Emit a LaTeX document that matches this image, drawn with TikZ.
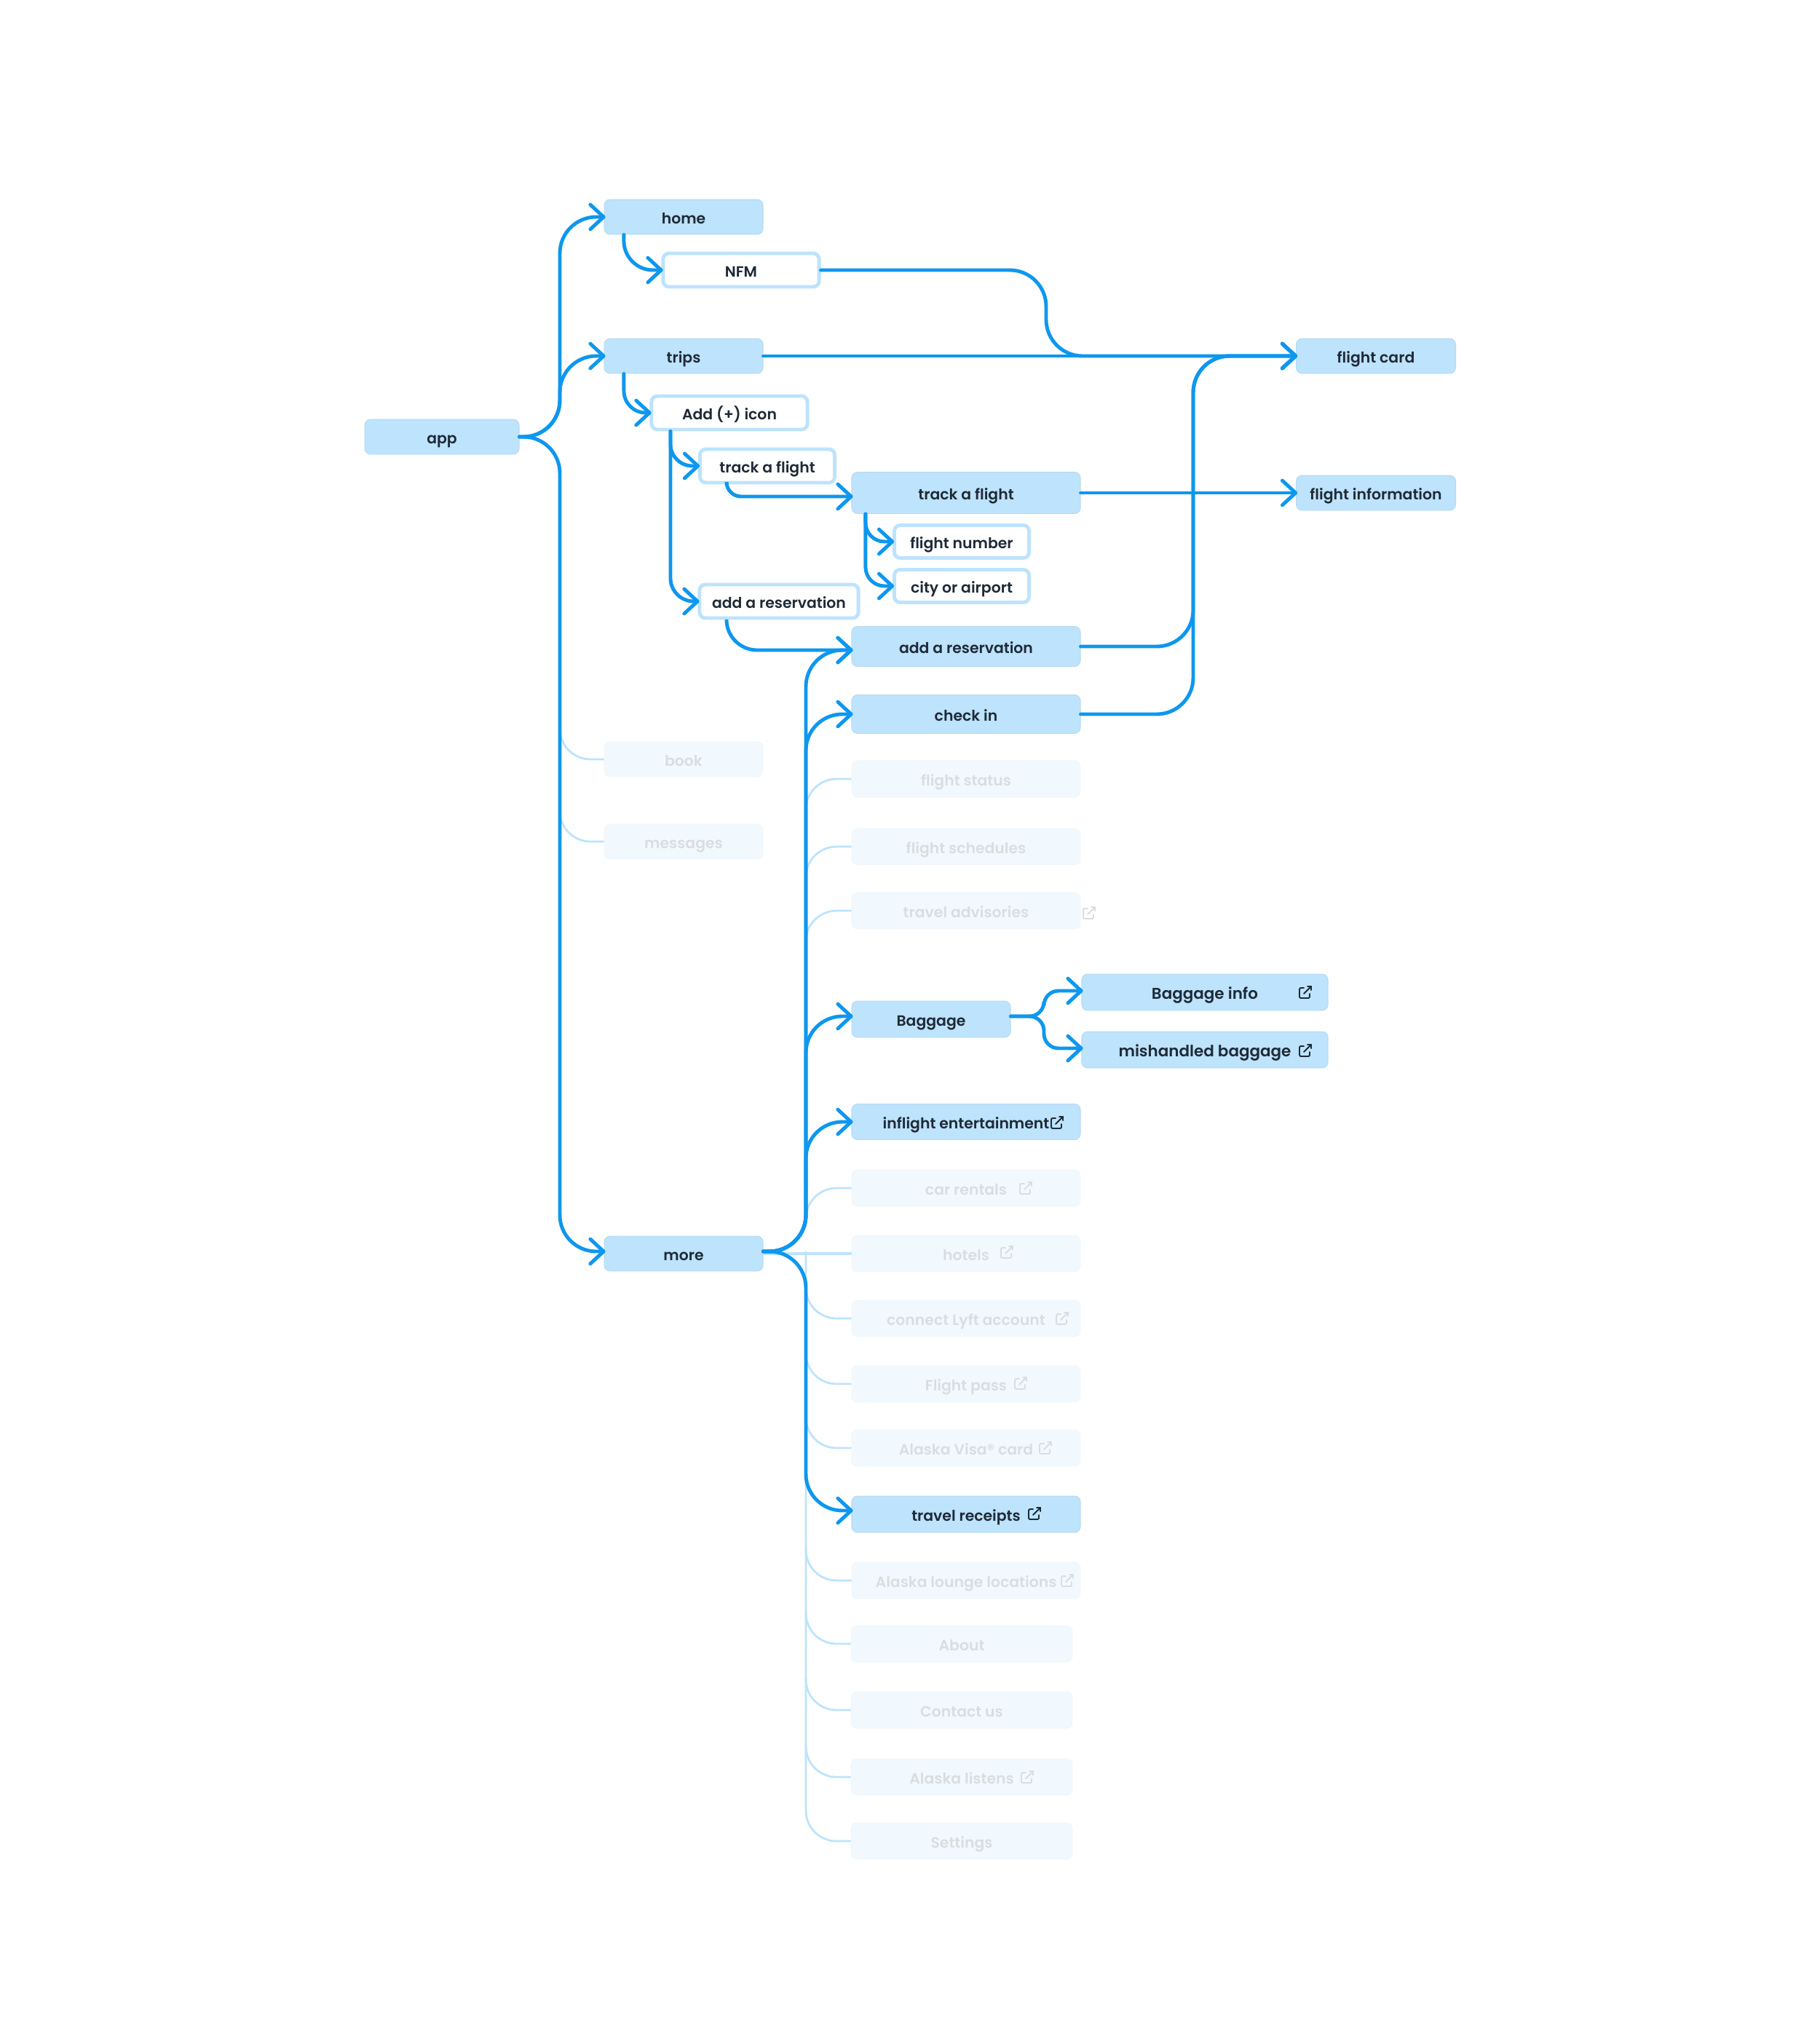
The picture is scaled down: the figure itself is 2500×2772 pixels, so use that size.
\documentclass[tikz,border=0pt]{standalone}
\usepackage{fontspec}
\setmainfont{Poppins}[BoldFont={Poppins SemiBold}]
\definecolor{myblue}{HTML}{0E97EE}
\definecolor{mypale}{HTML}{BDE3FD}
\definecolor{myghost}{HTML}{F2F9FE}
\definecolor{myink}{HTML}{1F2A37}
\definecolor{mygrey}{HTML}{D9DDE0}
\usetikzlibrary{arrows.meta, calc}
\tikzset{
  box/.style={rounded corners=.08cm, inner sep=0pt, minimum height=.48cm, text height=1.5ex, text depth=.5ex,
    font=\bfseries\fontsize{5.8}{8}\selectfont, text=myink},
  bluebox/.style={box, fill=mypale, draw=mypale!90!gray, line width=.25pt},
  whitebox/.style={box, fill=white, draw=mypale, line width=1.4pt},
  ghostbox/.style={box, fill=myghost, draw=myghost!97!gray, line width=.2pt, text=mygrey},
  flow/.style={draw=myblue, line width=1.4pt, line cap=round, rounded corners=.5cm},
  flowto/.style={flow, shorten >=-.6pt, -{Straight Barb[round,length=5.2pt,width=9.6pt]}},
  faint/.style={draw=mypale, line width=.8pt, rounded corners=.42cm},
  pics/extlink/.style={code={
    \draw[color=#1, line width=.55pt, rounded corners=.02cm, line cap=round] (-2,-6) -- (-8,-6) -- (-8,8) -- (6,8) -- (6,2);
    \draw[color=#1, line width=.55pt, line cap=round] (-2,2) -- (8,-8) (3,-8) -- (8,-8) -- (8,-3);
  }}
}
\begin{document}
\begin{tikzpicture}[x=0.01cm, y=-0.01cm]
  \useasboundingbox (0,0) rectangle (2500,2772);

  % left column
  \node[bluebox, minimum width=2.12cm] (app) at (607,600) {app};
  \foreach \name/\y/\txt in {home/298/home, trips/489/trips, more/1722/more} {
    \node[bluebox, minimum width=2.18cm] (\name) at (939,\y) {\txt};
  }
  \foreach \name/\y/\txt in {book/1043/book, messages/1156/messages} {
    \node[ghostbox, minimum width=2.18cm] (\name) at (939,\y) {\txt};
  }

  % white step boxes
  \node[whitebox, minimum width=2.14cm, minimum height=.46cm] (nfm) at (1018,371) {NFM};
  \node[whitebox, minimum width=2.14cm, minimum height=.46cm] (addicon) at (1002,567) {Add (+) icon};
  \node[whitebox, minimum width=1.85cm, minimum height=.46cm] (trackstep) at (1054,640) {track a flight};
  \node[whitebox, minimum width=2.18cm, minimum height=.46cm] (addstep) at (1070,826) {add a reservation};
  \node[whitebox, minimum width=1.85cm, minimum height=.45cm] (flightnum) at (1321,744) {flight number};
  \node[whitebox, minimum width=1.85cm, minimum height=.45cm] (cityport) at (1321,805) {city or airport};

  % screens in the middle column
  \node[bluebox, minimum width=3.14cm, minimum height=.57cm] (trackflight) at (1327,677) {track a flight};
  \node[bluebox, minimum width=3.14cm, minimum height=.55cm] (addres) at (1327,888) {add a reservation};
  \node[bluebox, minimum width=3.14cm, minimum height=.53cm] (checkin) at (1327,981) {check in};
  \node[bluebox, minimum width=2.18cm, minimum height=.5cm] (baggage) at (1279,1400) {Baggage};
  \node[bluebox, minimum width=3.14cm, minimum height=.49cm] (inflight) at (1327,1541) {inflight entertainment};
  \node[bluebox, minimum width=3.14cm, minimum height=.5cm] (receipts) at (1327,2080) {travel receipts};
  \foreach \name/\y/\txt in {status/1070/flight status, schedules/1163/flight schedules,
    advisories/1251/travel advisories, cars/1632/car rentals, hotels/1722/hotels,
    lyft/1811/connect Lyft account, pass/1901/Flight pass, visa/1989/Alaska Visa® card,
    lounge/2171/Alaska lounge locations} {
    \node[ghostbox, minimum width=3.14cm, minimum height=.5cm] (\name) at (1327,\y) {\txt};
  }
  \foreach \name/\y/\txt in {about/2258/About, contact/2349/Contact us, listens/2441/Alaska listens, settings/2529/Settings} {
    \node[ghostbox, minimum width=3.04cm, minimum height=.5cm] (\name) at (1321,\y) {\txt};
  }

  % right column
  \node[bluebox, minimum width=2.19cm] (card) at (1890,489) {flight card};
  \node[bluebox, minimum width=2.19cm] (info) at (1890,677) {flight information};
  \node[bluebox, minimum width=3.38cm, minimum height=.5cm, font=\bfseries\fontsize{6.1}{8}\selectfont] (baginfo) at (1655,1363) {Baggage info};
  \node[bluebox, minimum width=3.38cm, minimum height=.5cm, font=\bfseries\fontsize{6.1}{8}\selectfont] (bagmiss) at (1655,1442) {mishandled baggage};

  % spines
  \coordinate (spine) at (769,600);
  \coordinate (spinetwo) at (1107,1719);
  \coordinate (spinethree) at (1639,700);
  \coordinate (nfmdrop) at (1437,489);

  % greyed out branches
  \foreach \name in {book,messages} {
    \draw[faint] (spine |- \name.west) ++(0,-50) |- (\name.west);
  }
  \foreach \name in {status,schedules,advisories,cars} {
    \draw[faint] (spinetwo |- \name.west) ++(0,45) |- (\name.west);
  }
  \foreach \name in {lyft,pass,visa,lounge,about,contact,listens} {
    \draw[faint] (spinetwo |- \name.west) ++(0,-45) |- (\name.west);
  }
  \draw[faint] (spinetwo) |- (settings.west);
  \draw[faint, line width=1.3pt] (more.east) -- (hotels.west);

  % main tree
  \draw[flowto] (app.east) -| (spine |- home.west) -- (home.west);
  \draw[flowto] (app.east) -| (spine |- trips.west) -- (trips.west);
  \draw[flowto] (app.east) -| ([yshift=.03cm]spine |- more.west) -- ([yshift=.03cm]more.west);
  \draw[flowto, rounded corners=.4cm] ([xshift=-.82cm]home.south) |- (nfm.west);
  \draw[flowto, rounded corners=.3cm] ([xshift=-.82cm]trips.south) |- (addicon.west);
  \draw[flowto, rounded corners=.3cm] ([xshift=-.81cm]addicon.south) |- (trackstep.west);
  \draw[flowto, rounded corners=.32cm] ([xshift=-.81cm]addicon.south) |- (addstep.west);
  \draw[flowto, rounded corners=.2cm] ([xshift=-.56cm]trackstep.south) |- ([yshift=-.05cm]trackflight.west);
  \draw[flowto, rounded corners=.42cm] ([xshift=-.72cm]addstep.south) |- ([yshift=-.05cm]addres.west);
  \draw[flowto, rounded corners=.26cm] ([xshift=-1.38cm]trackflight.south) |- (flightnum.west);
  \draw[flowto, rounded corners=.26cm] ([xshift=-1.38cm]trackflight.south) |- (cityport.west);

  % links to the right
  \draw[flowto] (trips.east) -- (card.west);
  \draw[flowto] (nfm.east) -| (nfmdrop) -- (card.west);
  \draw[flowto] (trackflight.east) -- (info.west);
  \draw[flowto] (addres.east) -| (spinethree |- card.west) -- (card.west);
  \draw[flowto] (checkin.east) -| (spinethree |- card.west) -- (card.west);

  % more menu
  \draw[flowto] ([yshift=.03cm]more.east) -| ([yshift=-.05cm]spinetwo |- addres.west) -- ([yshift=-.05cm]addres.west);
  \draw[flowto] ([yshift=.03cm]more.east) -| (spinetwo |- checkin.west) -- (checkin.west);
  \draw[flowto] ([yshift=.03cm]more.east) -| ([yshift=.04cm]spinetwo |- baggage.west) -- ([yshift=.04cm]baggage.west);
  \draw[flowto] ([yshift=.03cm]more.east) -| (spinetwo |- inflight.west) -- (inflight.west);
  \draw[flowto] ([yshift=.03cm]more.east) -| ([yshift=.05cm]spinetwo |- receipts.west) -- ([yshift=.05cm]receipts.west);

  % baggage split
  \draw[flowto, rounded corners=.2cm] ([yshift=.04cm]baggage.east) -| (1434,1361) -- ([yshift=.02cm]baginfo.west);
  \draw[flowto, rounded corners=.2cm] ([yshift=.04cm]baggage.east) -| (1434,1440) -- ([yshift=.02cm]bagmiss.west);

  % external link icons
  \foreach \x/\y in {1793/1363, 1793/1443, 1452/1542, 1421/2079} {
    \pic at (\x,\y) {extlink=myink};
  }
  \foreach \x/\y in {1496/1254, 1409/1632, 1383/1720, 1459/1811, 1402/1900, 1436/1989, 1466/2171, 1411/2441} {
    \pic at (\x,\y) {extlink=mygrey};
  }
\end{tikzpicture}
\end{document}
